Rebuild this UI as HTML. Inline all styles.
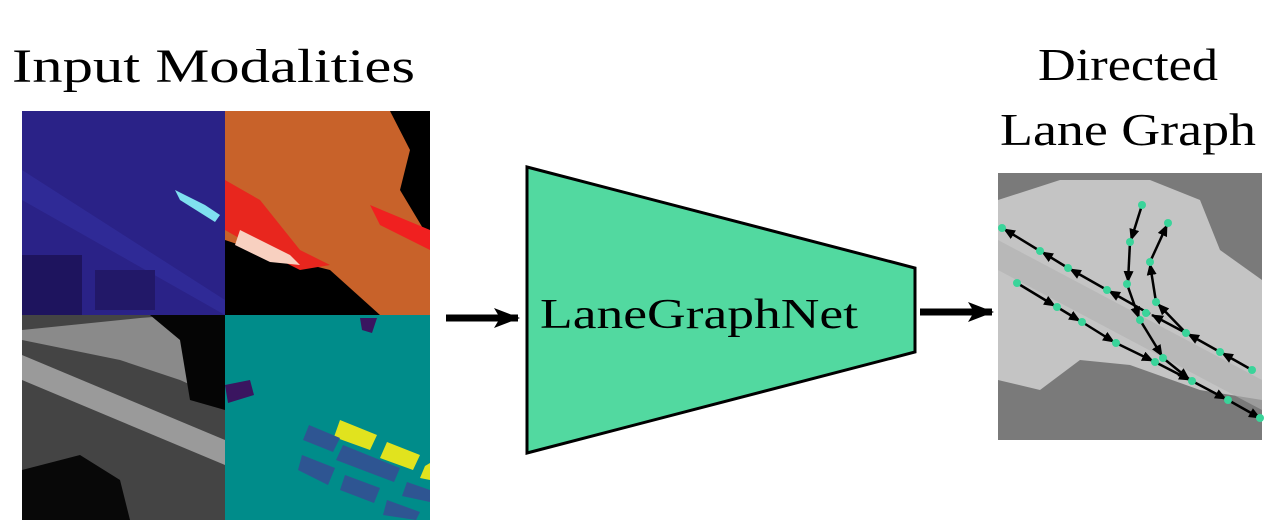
<!DOCTYPE html>
<html><head><meta charset="utf-8"><style>
html,body{margin:0;padding:0;background:#fff;}
svg{display:block}
text{font-family:"Liberation Serif",serif;fill:#000}
</style></head><body>
<svg width="1288" height="530" viewBox="0 0 1288 530" xmlns="http://www.w3.org/2000/svg">
<defs>
<marker id="ah" markerWidth="12" markerHeight="10" refX="11" refY="5" orient="auto" markerUnits="userSpaceOnUse"><path d="M0,0 L12,5 L0,10 z" fill="#000"/></marker>
<marker id="am" markerWidth="26" markerHeight="20" refX="24" refY="10" orient="auto" markerUnits="userSpaceOnUse"><path d="M0,0 L26,10 L0,20 L6,10 z" fill="#000"/></marker>
</defs>
<text x="12" y="82" font-size="48" textLength="403" lengthAdjust="spacingAndGlyphs">Input Modalities</text>
<text x="1038" y="80" font-size="46" textLength="180" lengthAdjust="spacingAndGlyphs">Directed</text>
<text x="1000" y="145" font-size="46" textLength="256" lengthAdjust="spacingAndGlyphs">Lane Graph</text>

<rect x="22" y="111" width="203" height="204" fill="#2a2287"/>
<polygon points="22,170 225,300 225,315 22,200" fill="#3330a0" opacity="0.6"/>
<rect x="22" y="255" width="60" height="60" fill="#1e145e"/>
<rect x="95" y="270" width="60" height="40" fill="#221868"/>
<polygon points="175,190 205,205 220,215 215,222 180,200" fill="#7fe0f0"/>
<rect x="225" y="111" width="205" height="204" fill="#000"/>
<polygon points="225,111 390,111 410,150 400,190 430,240 430,315 380,315 330,270 270,255 225,240" fill="#c8622a"/>
<polygon points="225,180 260,200 300,250 330,265 300,270 260,250 225,230" fill="#e8261e"/>
<polygon points="240,230 290,255 300,265 270,262 235,245" fill="#f8d0c0"/>
<polygon points="370,205 430,230 430,250 380,225" fill="#f02020"/>
<polygon points="225,250 260,260 300,275 330,300 330,315 225,315" fill="#000"/>
<rect x="22" y="315" width="203" height="205" fill="#444"/>
<polygon points="22,330 140,318 180,315 225,315 225,400 180,380 120,360 22,340" fill="#8a8a8a"/>
<polygon points="22,355 225,440 225,465 22,380" fill="#9a9a9a"/>
<polygon points="150,315 225,315 225,410 190,400 180,340" fill="#050505"/>
<polygon points="22,470 80,455 120,480 130,520 22,520" fill="#080808"/>
<rect x="225" y="315" width="205" height="205" fill="#008c8a"/>
<polygon points="360,318 377,318 372,333 362,330" fill="#3a1560"/>
<polygon points="225,385 250,380 254,395 228,403" fill="#3a1560"/>
<polygon points="340,420 377,435 370,450 334,437" fill="#e1e31e"/>
<polygon points="387,442 420,455 413,470 380,458" fill="#e1e31e"/>
<polygon points="425,466 430,463 430,480 420,478" fill="#e1e31e"/>
<polygon points="309,425 340,438 333,452 303,440" fill="#2e5592"/>
<polygon points="343,445 400,468 394,482 336,460" fill="#2e5592"/>
<polygon points="302,455 335,468 328,485 298,470" fill="#2e5592"/>
<polygon points="345,475 380,488 374,503 340,490" fill="#2e5592"/>
<polygon points="407,482 430,490 430,502 402,496" fill="#2e5592"/>
<polygon points="387,500 420,512 416,520 383,515" fill="#2e5592"/>

<line x1="446" y1="318" x2="518" y2="318" stroke="#000" stroke-width="7" marker-end="url(#am)"/>
<line x1="920" y1="312" x2="992" y2="312" stroke="#000" stroke-width="7" marker-end="url(#am)"/>

<polygon points="527,167 915,268 915,352 527,453" fill="#52d9a0" stroke="#000" stroke-width="3"/>
<text x="540" y="328" font-size="42" textLength="318" lengthAdjust="spacingAndGlyphs">LaneGraphNet</text>

<rect x="998" y="173" width="264" height="267" fill="#7a7a7a"/>
<polygon points="998,200 1060,180 1150,180 1200,200 1220,250 1262,280 1262,400 1200,390 1130,365 1080,360 1040,390 998,380" fill="#c4c4c4"/>
<polygon points="998,240 1262,380 1262,410 998,270" fill="#b0b0b0" opacity="0.6"/>
<g stroke="#000" stroke-width="2.5" fill="none" marker-end="url(#ah)">
<line x1="1040" y1="251" x2="1004" y2="229"/>
<line x1="1068" y1="268" x2="1042" y2="252"/>
<line x1="1107" y1="290" x2="1070" y2="269"/>
<line x1="1150" y1="314" x2="1109" y2="291"/>
<line x1="1186" y1="333" x2="1152" y2="315"/>
<line x1="1220" y1="352" x2="1188" y2="334"/>
<line x1="1252" y1="370" x2="1222" y2="353"/>
<line x1="1017" y1="283" x2="1055" y2="306"/>
<line x1="1057" y1="307" x2="1080" y2="321"/>
<line x1="1082" y1="322" x2="1114" y2="342"/>
<line x1="1116" y1="343" x2="1153" y2="361"/>
<line x1="1155" y1="362" x2="1190" y2="380"/>
<line x1="1192" y1="381" x2="1226" y2="399"/>
<line x1="1228" y1="400" x2="1260" y2="418"/>
<line x1="1142" y1="205" x2="1131" y2="240"/>
<line x1="1130" y1="242" x2="1128" y2="282"/>
<line x1="1127" y1="284" x2="1139" y2="318"/>
<line x1="1140" y1="320" x2="1162" y2="356"/>
<line x1="1163" y1="358" x2="1189" y2="379"/>
<line x1="1150" y1="262" x2="1167" y2="225"/>
<line x1="1156" y1="302" x2="1150" y2="264"/>
<line x1="1186" y1="333" x2="1158" y2="304"/>
</g>
<g fill="#3ad49a">
<circle cx="1002" cy="228" r="4"/><circle cx="1040" cy="251" r="4"/><circle cx="1068" cy="268" r="4"/><circle cx="1107" cy="290" r="4"/><circle cx="1146" cy="313" r="4"/><circle cx="1186" cy="333" r="4"/><circle cx="1220" cy="352" r="4"/><circle cx="1252" cy="370" r="4"/>
<circle cx="1017" cy="283" r="4"/><circle cx="1057" cy="307" r="4"/><circle cx="1082" cy="322" r="4"/><circle cx="1116" cy="343" r="4"/><circle cx="1155" cy="362" r="4"/><circle cx="1192" cy="381" r="4"/><circle cx="1228" cy="400" r="4"/><circle cx="1260" cy="418" r="4"/>
<circle cx="1142" cy="205" r="4"/><circle cx="1130" cy="242" r="4"/><circle cx="1127" cy="284" r="4"/><circle cx="1140" cy="320" r="4"/><circle cx="1163" cy="358" r="4"/><circle cx="1168" cy="223" r="4"/><circle cx="1150" cy="262" r="4"/><circle cx="1156" cy="302" r="4"/>
</g>
</svg>
</body></html>
